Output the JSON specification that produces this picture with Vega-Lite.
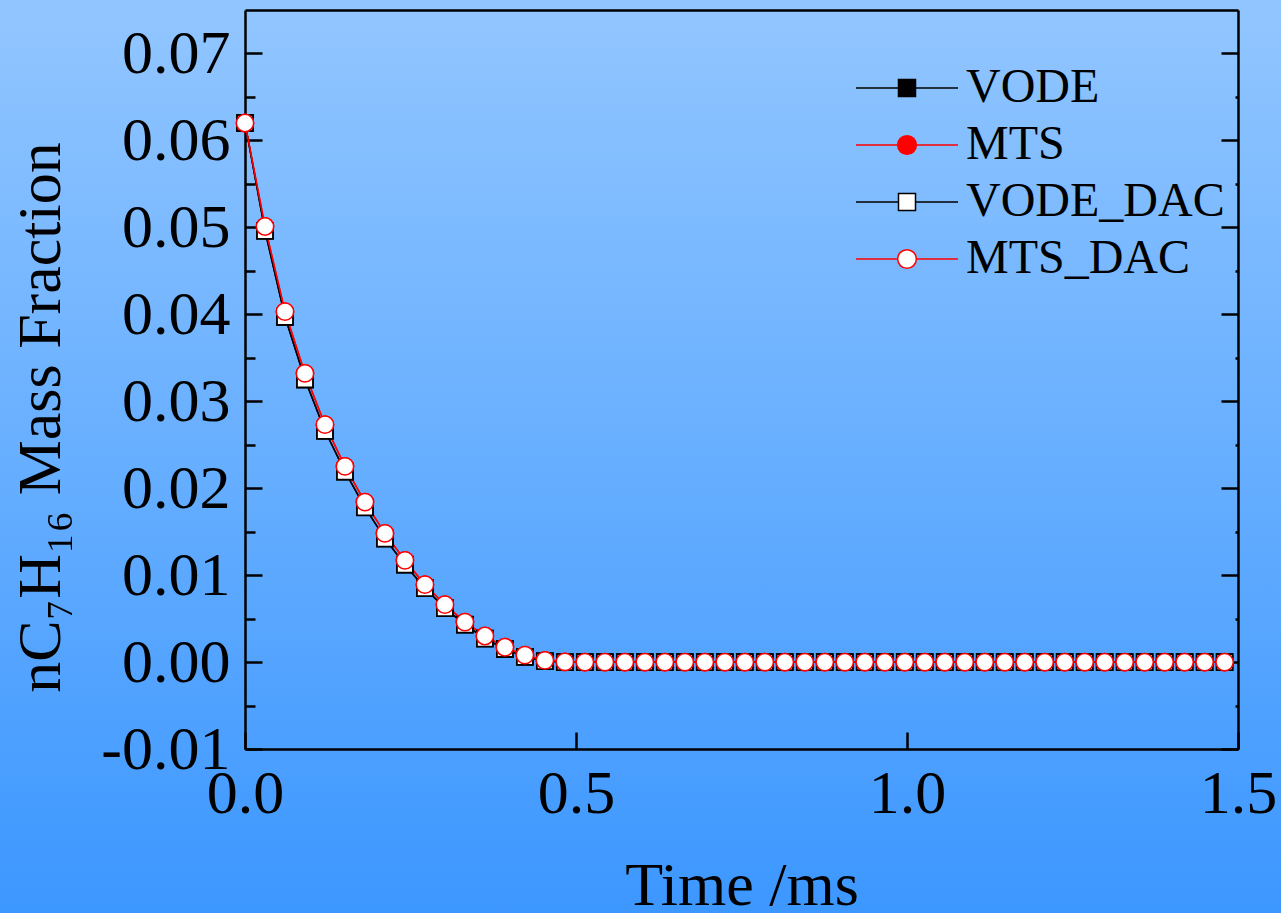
{
  "$schema": "https://vega.github.io/schema/vega-lite/v6.json",
  "width": 1281,
  "height": 913,
  "autosize": "none",
  "padding": 0,
  "background": "#68AFFF",
  "config": {
    "view": {
      "fill": {"gradient": "linear", "x1": 0, "y1": 0, "x2": 0, "y2": 1, "stops": [{"offset": 0, "color": "#92C6FF"}, {"offset": 1, "color": "#3C97FF"}]},
      "stroke": null
    },
    "font": "Liberation Serif",
    "axis": {
      "domainColor": "black",
      "domainWidth": 2.5,
      "tickColor": "black",
      "tickWidth": 2.5,
      "labelFont": "Liberation Serif",
      "labelFontSize": 62,
      "labelColor": "black",
      "titleFont": "Liberation Serif",
      "titleFontSize": 62,
      "titleFontWeight": "normal",
      "titleColor": "black",
      "grid": false,
      "zindex": 1,
      "labelFlush": false,
      "labelOverlap": false
    }
  },
  "data": {
    "values": [
      {"t": 0, "VODE": 0.062, "MTS": 0.062, "VODE_DAC": 0.062, "MTS_DAC": 0.062},
      {"t": 0.0302, "VODE": 0.0496, "MTS": 0.0501, "VODE_DAC": 0.0496, "MTS_DAC": 0.0501},
      {"t": 0.0604, "VODE": 0.0397, "MTS": 0.0403, "VODE_DAC": 0.0397, "MTS_DAC": 0.0403},
      {"t": 0.0906, "VODE": 0.0325, "MTS": 0.0332, "VODE_DAC": 0.0325, "MTS_DAC": 0.0332},
      {"t": 0.1208, "VODE": 0.0266, "MTS": 0.0273, "VODE_DAC": 0.0266, "MTS_DAC": 0.0273},
      {"t": 0.151, "VODE": 0.0219, "MTS": 0.0225, "VODE_DAC": 0.0219, "MTS_DAC": 0.0225},
      {"t": 0.1812, "VODE": 0.0178, "MTS": 0.0184, "VODE_DAC": 0.0178, "MTS_DAC": 0.0184},
      {"t": 0.2114, "VODE": 0.0142, "MTS": 0.0148, "VODE_DAC": 0.0142, "MTS_DAC": 0.0148},
      {"t": 0.2416, "VODE": 0.0112, "MTS": 0.0117, "VODE_DAC": 0.0112, "MTS_DAC": 0.0117},
      {"t": 0.2718, "VODE": 0.0085, "MTS": 0.0089, "VODE_DAC": 0.0085, "MTS_DAC": 0.0089},
      {"t": 0.302, "VODE": 0.0062, "MTS": 0.0066, "VODE_DAC": 0.0062, "MTS_DAC": 0.0066},
      {"t": 0.3322, "VODE": 0.0043, "MTS": 0.0046, "VODE_DAC": 0.0043, "MTS_DAC": 0.0046},
      {"t": 0.3624, "VODE": 0.0027, "MTS": 0.003, "VODE_DAC": 0.0027, "MTS_DAC": 0.003},
      {"t": 0.3926, "VODE": 0.0015, "MTS": 0.0017, "VODE_DAC": 0.0015, "MTS_DAC": 0.0017},
      {"t": 0.4228, "VODE": 0.0006, "MTS": 0.0008, "VODE_DAC": 0.0006, "MTS_DAC": 0.0008},
      {"t": 0.453, "VODE": 0.0001, "MTS": 0.0002, "VODE_DAC": 0.0001, "MTS_DAC": 0.0002},
      {"t": 0.4832, "VODE": 0, "MTS": 0.00002, "VODE_DAC": 0, "MTS_DAC": 0.00002},
      {"t": 0.5134, "VODE": 0, "MTS": 0, "VODE_DAC": 0, "MTS_DAC": 0},
      {"t": 0.5436, "VODE": 0, "MTS": 0, "VODE_DAC": 0, "MTS_DAC": 0},
      {"t": 0.5738, "VODE": 0, "MTS": 0, "VODE_DAC": 0, "MTS_DAC": 0},
      {"t": 0.604, "VODE": 0, "MTS": 0, "VODE_DAC": 0, "MTS_DAC": 0},
      {"t": 0.6342, "VODE": 0, "MTS": 0, "VODE_DAC": 0, "MTS_DAC": 0},
      {"t": 0.6644, "VODE": 0, "MTS": 0, "VODE_DAC": 0, "MTS_DAC": 0},
      {"t": 0.6946, "VODE": 0, "MTS": 0, "VODE_DAC": 0, "MTS_DAC": 0},
      {"t": 0.7248, "VODE": 0, "MTS": 0, "VODE_DAC": 0, "MTS_DAC": 0},
      {"t": 0.755, "VODE": 0, "MTS": 0, "VODE_DAC": 0, "MTS_DAC": 0},
      {"t": 0.7852, "VODE": 0, "MTS": 0, "VODE_DAC": 0, "MTS_DAC": 0},
      {"t": 0.8154, "VODE": 0, "MTS": 0, "VODE_DAC": 0, "MTS_DAC": 0},
      {"t": 0.8456, "VODE": 0, "MTS": 0, "VODE_DAC": 0, "MTS_DAC": 0},
      {"t": 0.8758, "VODE": 0, "MTS": 0, "VODE_DAC": 0, "MTS_DAC": 0},
      {"t": 0.906, "VODE": 0, "MTS": 0, "VODE_DAC": 0, "MTS_DAC": 0},
      {"t": 0.9362, "VODE": 0, "MTS": 0, "VODE_DAC": 0, "MTS_DAC": 0},
      {"t": 0.9664, "VODE": 0, "MTS": 0, "VODE_DAC": 0, "MTS_DAC": 0},
      {"t": 0.9966, "VODE": 0, "MTS": 0, "VODE_DAC": 0, "MTS_DAC": 0},
      {"t": 1.0268, "VODE": 0, "MTS": 0, "VODE_DAC": 0, "MTS_DAC": 0},
      {"t": 1.057, "VODE": 0, "MTS": 0, "VODE_DAC": 0, "MTS_DAC": 0},
      {"t": 1.0872, "VODE": 0, "MTS": 0, "VODE_DAC": 0, "MTS_DAC": 0},
      {"t": 1.1174, "VODE": 0, "MTS": 0, "VODE_DAC": 0, "MTS_DAC": 0},
      {"t": 1.1476, "VODE": 0, "MTS": 0, "VODE_DAC": 0, "MTS_DAC": 0},
      {"t": 1.1778, "VODE": 0, "MTS": 0, "VODE_DAC": 0, "MTS_DAC": 0},
      {"t": 1.208, "VODE": 0, "MTS": 0, "VODE_DAC": 0, "MTS_DAC": 0},
      {"t": 1.2382, "VODE": 0, "MTS": 0, "VODE_DAC": 0, "MTS_DAC": 0},
      {"t": 1.2684, "VODE": 0, "MTS": 0, "VODE_DAC": 0, "MTS_DAC": 0},
      {"t": 1.2986, "VODE": 0, "MTS": 0, "VODE_DAC": 0, "MTS_DAC": 0},
      {"t": 1.3288, "VODE": 0, "MTS": 0, "VODE_DAC": 0, "MTS_DAC": 0},
      {"t": 1.359, "VODE": 0, "MTS": 0, "VODE_DAC": 0, "MTS_DAC": 0},
      {"t": 1.3892, "VODE": 0, "MTS": 0, "VODE_DAC": 0, "MTS_DAC": 0},
      {"t": 1.4194, "VODE": 0, "MTS": 0, "VODE_DAC": 0, "MTS_DAC": 0},
      {"t": 1.4496, "VODE": 0, "MTS": 0, "VODE_DAC": 0, "MTS_DAC": 0},
      {"t": 1.4798, "VODE": 0, "MTS": 0, "VODE_DAC": 0, "MTS_DAC": 0}
    ]
  },
  "transform": [{"fold": ["VODE", "MTS", "VODE_DAC", "MTS_DAC"], "as": ["series", "y"]}],
  "layer": [
    {
      "mark": {"type": "line", "strokeWidth": 1.5},
      "encoding": {
        "x": {"field": "t", "type": "quantitative", "scale": {"domain": [0, 1.5], "range": [245, 1238], "nice": false, "zero": false},
          "axis": {"orient": "bottom", "offset": -164, "values": [0, 0.5, 1, 1.5], "format": ".1f", "tickSize": -17, "labelPadding": 31, "title": "Time /ms", "titlePadding": 31}},
        "y": {"field": "y", "type": "quantitative", "scale": {"domain": [-0.01, 0.075], "range": [749, 10], "nice": false, "zero": false},
          "axis": {"orient": "left", "offset": -245, "values": [-0.01, 0, 0.01, 0.02, 0.03, 0.04, 0.05, 0.06, 0.07], "labelExpr": "datum.value < 0 ? '-' + format(-datum.value, '.2f') : format(datum.value, '.2f')", "tickSize": -17, "labelPadding": 32, "title": "nC₇H₁₆ Mass Fraction", "titlePadding": 28, "titleY": 417}},
        "detail": {"field": "series", "type": "nominal"},
        "stroke": {"condition": {"test": "datum.series === 'MTS' || datum.series === 'MTS_DAC'", "value": "red"}, "value": "black"}
      }
    },
    {
      "transform": [{"filter": "datum.series === 'VODE'"}],
      "mark": {"type": "point", "shape": "square", "filled": true, "fill": "black", "stroke": "black", "strokeWidth": 1.5, "size": 256, "opacity": 1},
      "encoding": {
        "x": {"field": "t", "type": "quantitative", "axis": {"orient": "top", "offset": -10, "ticks": false, "labels": false, "domain": true, "title": null}},
        "y": {"field": "y", "type": "quantitative",
          "axis": {"orient": "left", "offset": -245, "values": [-0.005, 0.005, 0.015, 0.025, 0.035, 0.045, 0.055, 0.065], "tickSize": -10, "labels": false, "domain": false, "title": null}}
      }
    },
    {
      "transform": [{"filter": "datum.series === 'MTS'"}],
      "mark": {"type": "point", "shape": "circle", "filled": true, "fill": "red", "stroke": "red", "strokeWidth": 1.5, "size": 300, "opacity": 1},
      "encoding": {
        "x": {"field": "t", "type": "quantitative", "axis": null},
        "y": {"field": "y", "type": "quantitative",
          "axis": {"orient": "right", "offset": -43, "values": [-0.01, 0, 0.01, 0.02, 0.03, 0.04, 0.05, 0.06, 0.07], "tickSize": -17, "labels": false, "domain": true, "title": null}}
      }
    },
    {
      "transform": [{"filter": "datum.series === 'VODE_DAC'"}],
      "mark": {"type": "point", "shape": "square", "filled": true, "fill": "white", "stroke": "black", "strokeWidth": 1.8, "size": 256, "opacity": 1},
      "encoding": {
        "x": {"field": "t", "type": "quantitative", "axis": null},
        "y": {"field": "y", "type": "quantitative",
          "axis": {"orient": "right", "offset": -43, "values": [-0.005, 0.005, 0.015, 0.025, 0.035, 0.045, 0.055, 0.065], "tickSize": -3, "labels": false, "domain": false, "title": null}}
      }
    },
    {
      "transform": [{"filter": "datum.series === 'MTS_DAC'"}],
      "mark": {"type": "point", "shape": "circle", "filled": true, "fill": "white", "stroke": "red", "strokeWidth": 1.5, "size": 300, "opacity": 1},
      "encoding": {
        "x": {"field": "t", "type": "quantitative", "axis": null},
        "y": {"field": "y", "type": "quantitative", "axis": null}
      }
    },
    {
      "mark": {"type": "point", "opacity": 0},
      "encoding": {
        "x": {"field": "t", "type": "quantitative", "axis": null},
        "y": {"field": "y", "type": "quantitative", "axis": null},
        "shape": {"field": "series", "type": "nominal", "scale": {"domain": ["VODE", "MTS", "VODE_DAC", "MTS_DAC"], "range": ["M-3,0H-0.5M0.5,0H3M-0.5,-0.5H0.5V0.5H-0.5Z", "M-3,0H-0.55M0.55,0H3M-0.55,0A0.55,0.55,0,1,1,0.55,0A0.55,0.55,0,1,1,-0.55,0Z", "M-3,0H-0.5M0.5,0H3M-0.5,-0.5H0.5V0.5H-0.5Z", "M-3,0H-0.55M0.55,0H3M-0.55,0A0.55,0.55,0,1,1,0.55,0A0.55,0.55,0,1,1,-0.55,0Z"]},
          "legend": {"title": null, "orient": "none", "legendX": 883, "legendY": 64, "labelFont": "Liberation Serif", "labelFontSize": 48, "labelColor": "black", "symbolSize": 1156, "symbolStrokeWidth": 1.5, "symbolOpacity": 1, "labelOffset": 35, "rowPadding": 9, "labelLimit": 400, "padding": 0}},
        "stroke": {"field": "series", "type": "nominal", "scale": {"domain": ["VODE", "MTS", "VODE_DAC", "MTS_DAC"], "range": ["black", "red", "black", "red"]}},
        "fill": {"field": "series", "type": "nominal", "scale": {"domain": ["VODE", "MTS", "VODE_DAC", "MTS_DAC"], "range": ["black", "red", "white", "white"]}}
      }
    }
  ],
  "resolve": {"axis": {"x": "independent", "y": "independent"}}
}
